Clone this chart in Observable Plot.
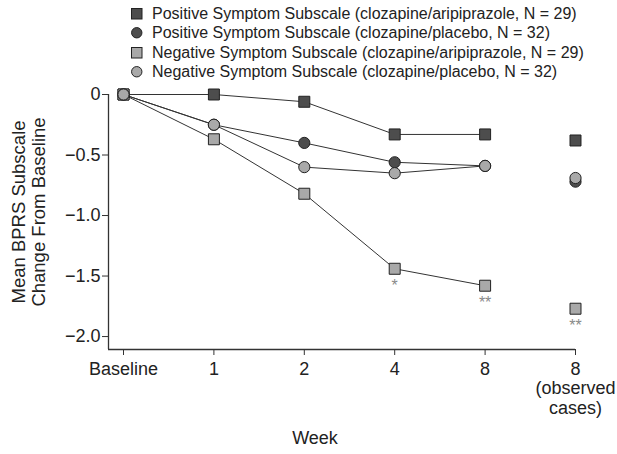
<!DOCTYPE html>
<html>
<head>
<meta charset="utf-8">
<script src="https://cdn.jsdelivr.net/npm/d3@7"></script>
<script src="https://cdn.jsdelivr.net/npm/@observablehq/plot@0.6"></script>
<style>
  body { margin: 0; background: #fff; }
  #legend { position: relative; width: 617px; height: 84px; font: 16px "Liberation Sans", Arial, sans-serif; color: #222; }
  .row { position: absolute; left: 131px; height: 19px; display: flex; align-items: center; white-space: nowrap; }
  .row svg { margin-right: 9px; }
</style>
</head>
<body>
<div id="legend"></div>
<div id="chart"></div>
<script>
// ---- data ----
const weeks = ["Baseline", "1", "2", "4", "8", "8\n(observed\ncases)"];
const observedIndex = 5;
const seriesNames = [
  "Positive Symptom Subscale (clozapine/aripiprazole, N = 29)",
  "Positive Symptom Subscale (clozapine/placebo, N = 32)",
  "Negative Symptom Subscale (clozapine/aripiprazole, N = 29)",
  "Negative Symptom Subscale (clozapine/placebo, N = 32)"
];
const posArip = [0, 0.0, -0.06, -0.33, -0.33, -0.38];
const posPlac = [0, -0.25, -0.40, -0.56, -0.59, -0.72];
const negArip = [0, -0.37, -0.82, -1.44, -1.58, -1.77];
const negPlac = [0, -0.25, -0.60, -0.65, -0.59, -0.69];
const asteriskIdx = [3, 4, 5];
const asteriskText = ["*", "**", "**"];
const yTicks = [0, -0.5, -1.0, -1.5, -2.0];

// ---- styles ----
const fills = ["#4d4d4d", "#4d4d4d", "#a9a9a9", "#a9a9a9"];
const shapes = ["square", "circle", "square", "circle"];

const seriesValues = [posArip, posPlac, negArip, negPlac];
const rows = [];
seriesValues.forEach((vals, s) => vals.forEach((v, i) => rows.push({series: seriesNames[s], shape: shapes[s], i, v})));
const stars = asteriskIdx.map((i, k) => ({i, v: negArip[i], label: asteriskText[k]}));

// legend
const legend = document.getElementById("legend");
seriesNames.forEach((name, s) => {
  const row = document.createElement("div");
  row.className = "row";
  row.style.top = (4.5 + s * 19.3) + "px";
  const sym = shapes[s] === "square"
    ? `<rect x="0.5" y="0.5" width="10.5" height="10.5" fill="${fills[s]}" stroke="#222" stroke-width="1"/>`
    : `<circle cx="5.75" cy="5.75" r="5.2" fill="${fills[s]}" stroke="#222" stroke-width="1"/>`;
  row.innerHTML = `<svg width="12" height="12">${sym}</svg><span>${name}</span>`;
  legend.appendChild(row);
});

const xDomain = [-0.166, weeks.length - 1];
const yDomain = [-2.107, 0];

const chart = Plot.plot({
  width: 617,
  height: 370,
  marginTop: 10,
  marginLeft: 108,
  marginRight: 42,
  marginBottom: 105,
  style: {fontFamily: "'Liberation Sans', Arial, sans-serif", fontSize: "18px", color: "#222", background: "#fff"},
  x: {type: "linear", domain: xDomain},
  y: {domain: yDomain},
  color: {domain: seriesNames, range: fills},
  marks: [
    Plot.ruleY([yDomain[0]], {x1: xDomain[0], x2: xDomain[1], stroke: "#333", strokeWidth: 1.3}),
    Plot.ruleX([xDomain[0]], {y1: yDomain[0], y2: yDomain[1], stroke: "#333", strokeWidth: 1.3}),
    Plot.axisX({ticks: d3.range(weeks.length), tickFormat: i => weeks[i], tickSize: 6, tickPadding: 5, lineHeight: 1.1, label: null, stroke: "#333"}),
    Plot.axisY({ticks: yTicks, tickFormat: d => d === 0 ? "0" : d3.format(".1f")(d), tickSize: 6, tickPadding: 2, label: null, stroke: "#333"}),
    Plot.text(["Mean BPRS Subscale\nChange From Baseline"], {frameAnchor: "left", rotate: -90, textAnchor: "middle", lineAnchor: "middle", lineHeight: 1.1, dx: -80, dy: -10, fontSize: 18.5}),
    Plot.text(["Week"], {frameAnchor: "bottom", textAnchor: "middle", lineAnchor: "middle", dx: -27, dy: 89, fontSize: 18}),
    Plot.line(rows.filter(d => d.i !== observedIndex), {x: "i", y: "v", z: "series", stroke: "#333", strokeWidth: 1}),
    Plot.dot(rows.filter(d => d.shape === "square"), {x: "i", y: "v", fill: "series", symbol: "square", r: 6.2, stroke: "#222", strokeWidth: 1}),
    Plot.dot(rows.filter(d => d.shape === "circle"), {x: "i", y: "v", fill: "series", symbol: "circle", r: 5.6, stroke: "#222", strokeWidth: 1}),
    Plot.text(stars, {x: "i", y: "v", text: "label", dy: 17, fill: "#8a8a8a", fontSize: 16})
  ]
});
document.getElementById("chart").appendChild(chart);
</script>
</body>
</html>
